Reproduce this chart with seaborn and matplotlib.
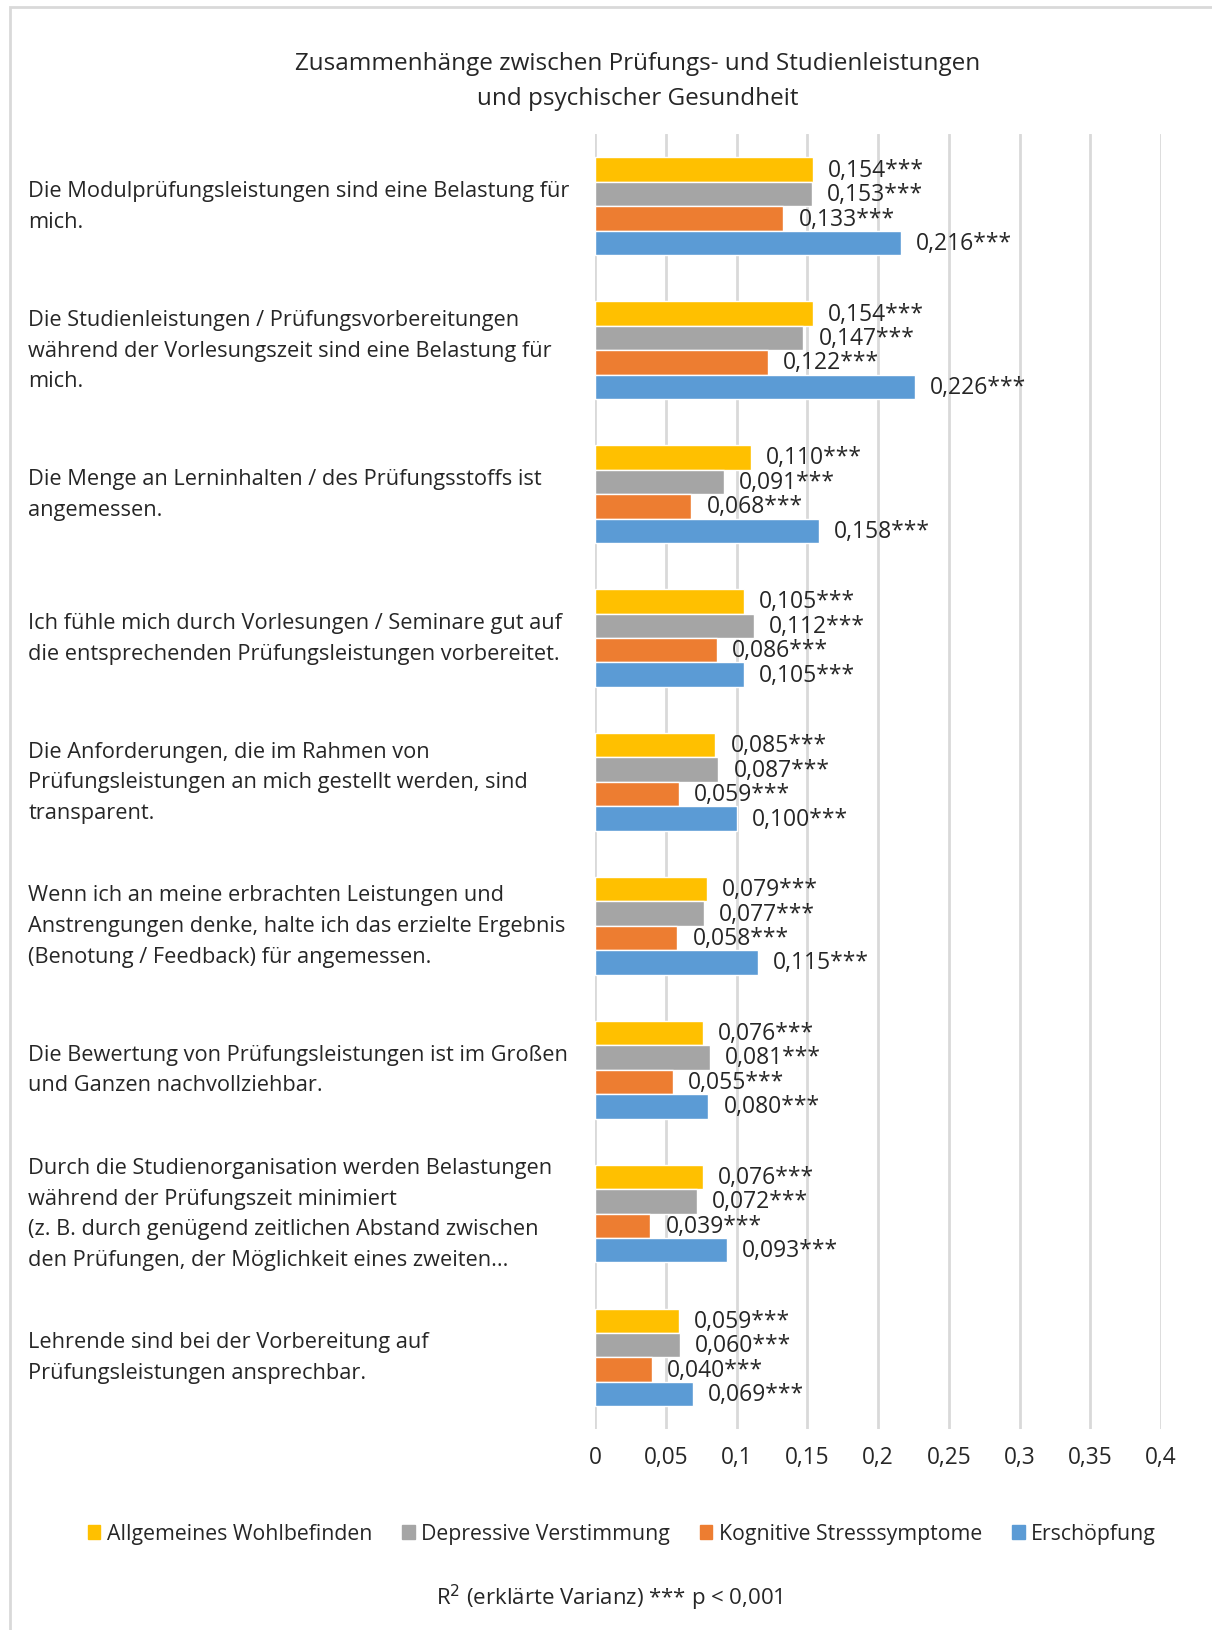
import numpy as np
import pandas as pd
import matplotlib
matplotlib.use("Agg")
import matplotlib.pyplot as plt
import matplotlib.ticker as mticker
import matplotlib.transforms as mtransforms
from matplotlib.patches import Rectangle
import seaborn as sns

# data
items = [
    "Die Modulprüfungsleistungen sind eine Belastung für\nmich.",
    "Die Studienleistungen / Prüfungsvorbereitungen\nwährend der Vorlesungszeit sind eine Belastung für\nmich.",
    "Die Menge an Lerninhalten / des Prüfungsstoffs ist\nangemessen.",
    "Ich fühle mich durch Vorlesungen / Seminare gut auf\ndie entsprechenden Prüfungsleistungen vorbereitet.",
    "Die Anforderungen, die im Rahmen von\nPrüfungsleistungen an mich gestellt werden, sind\ntransparent.",
    "Wenn ich an meine erbrachten Leistungen und\nAnstrengungen denke, halte ich das erzielte Ergebnis\n(Benotung / Feedback) für angemessen.",
    "Die Bewertung von Prüfungsleistungen ist im Großen\nund Ganzen nachvollziehbar.",
    "Durch die Studienorganisation werden Belastungen\nwährend der Prüfungszeit minimiert\n(z. B. durch genügend zeitlichen Abstand zwischen\nden Prüfungen, der Möglichkeit eines zweiten...",
    "Lehrende sind bei der Vorbereitung auf\nPrüfungsleistungen ansprechbar.",
]
series = ["Allgemeines Wohlbefinden", "Depressive Verstimmung",
          "Kognitive Stresssymptome", "Erschöpfung"]
wohlbefinden = [0.154, 0.154, 0.110, 0.105, 0.085, 0.079, 0.076, 0.076, 0.059]
depressiv = [0.153, 0.147, 0.091, 0.112, 0.087, 0.077, 0.081, 0.072, 0.060]
kognitiv = [0.133, 0.122, 0.068, 0.086, 0.059, 0.058, 0.055, 0.039, 0.040]
erschoepfung = [0.216, 0.226, 0.158, 0.105, 0.100, 0.115, 0.080, 0.093, 0.069]
colors = ["#FFC000", "#A5A5A5", "#ED7D31", "#5B9BD5"]

rows = []
for s, vals in zip(series, [wohlbefinden, depressiv, kognitiv, erschoepfung]):
    for it, v in zip(items, vals):
        rows.append({"Item": it, "Skala": s, "R2": v})
df = pd.DataFrame(rows)

sns.set_theme(style="white")
plt.rcParams["font.family"] = ["Open Sans", "DejaVu Sans"]
txt = "#262626"

fig = plt.figure(figsize=(12.12, 16.31), dpi=100)
ax = fig.add_axes([0.491, 0.123, 0.467, 0.794])

sns.barplot(data=df, y="Item", x="R2", hue="Skala", order=items,
            hue_order=series, palette=colors, orient="h", width=0.68,
            saturation=1, ax=ax, legend=True)

for cont in ax.containers:
    ax.bar_label(cont, labels=[f"{v:.3f}".replace(".", ",") + "***" for v in cont.datavalues],
                 padding=11, fontsize=16.5, color=txt)

ax.set_xlim(0, 0.4)
ax.xaxis.set_major_locator(mticker.MultipleLocator(0.05))
ax.xaxis.set_major_formatter(mticker.FuncFormatter(
    lambda v, p: "0" if abs(v) < 1e-9 else f"{v:.2f}".rstrip("0").replace(".", ",")))
ax.grid(axis="x", color="#D9D9D9", linewidth=2)
ax.set_axisbelow(True)
sns.despine(ax=ax, left=True, bottom=True)
ax.set_xlabel("")
ax.set_ylabel("")
ax.tick_params(axis="x", length=0, pad=11, labelsize=16.3, labelcolor=txt)
ax.tick_params(axis="y", length=0, pad=408, labelsize=15.7, labelcolor=txt)
# item labels sit a little above the group centre in the reference
shift = mtransforms.ScaledTranslation(0, 0.075, fig.dpi_scale_trans)
for lab in ax.get_yticklabels():
    lab.set_ha("left")
    lab.set_linespacing(1.6)
    lab.set_transform(lab.get_transform() + shift)

ax.get_legend().remove()
handles = [plt.Rectangle((0, 0), 1, 1, color=c) for c in colors]
fig.legend(handles, series, loc="center", bbox_to_anchor=(0.513, 0.059), ncol=4,
           frameon=False, fontsize=15.3, handlelength=0.6, handleheight=0.6,
           handletextpad=0.3, columnspacing=1.4, labelcolor=txt)

fig.text(0.526, 0.950, "Zusammenhänge zwischen Prüfungs- und Studienleistungen\nund psychischer Gesundheit",
         ha="center", va="center", fontsize=17.5, color=txt, linespacing=1.57)
fig.text(0.503, 0.020, "R$^2$ (erklärte Varianz) *** p < 0,001", ha="center", va="center",
         fontsize=16, color=txt)

fig.add_artist(Rectangle((0.008, -0.05), 1.2, 1.045, transform=fig.transFigure,
                         fill=False, edgecolor="#D9D9D9", linewidth=2))

fig.savefig("out.png", dpi=100, facecolor="white")
